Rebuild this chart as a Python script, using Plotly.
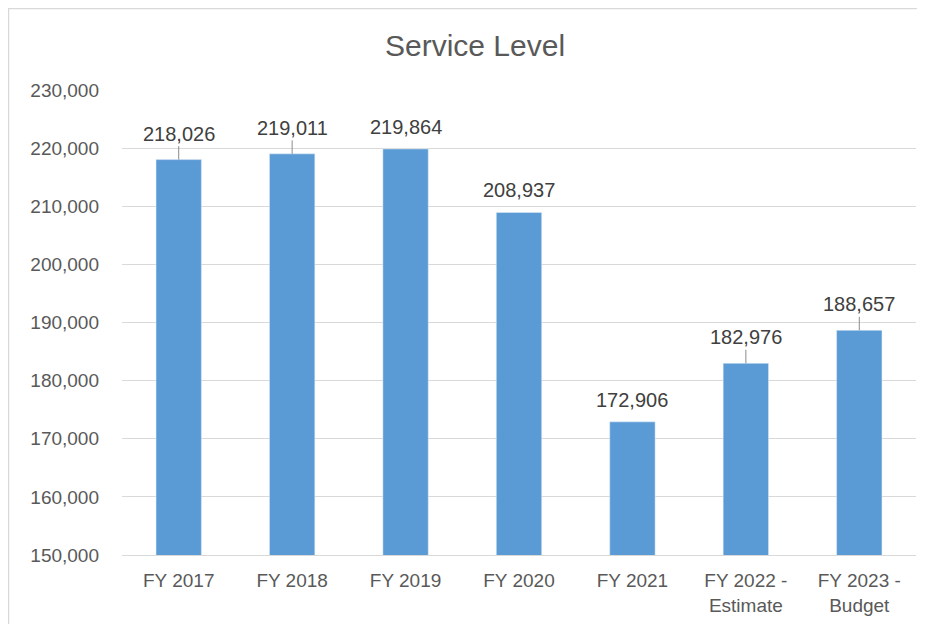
import plotly.graph_objects as go

categories = ["FY 2017", "FY 2018", "FY 2019", "FY 2020", "FY 2021",
              "FY 2022 -<br>Estimate", "FY 2023 -<br>Budget"]
values = [218026, 219011, 219864, 208937, 172906, 182976, 188657]
leader_bars = {"FY 2017", "FY 2018", "FY 2022 -<br>Estimate", "FY 2023 -<br>Budget"}

W, H = 917, 616
L, R, T, B = 114, 9, 82, 69
FONT = "Liberation Sans, Arial, sans-serif"
TXT = "#595959"

fig = go.Figure(go.Bar(x=categories, y=values, marker_color="#5B9BD5",
                       width=0.4, hoverinfo="x+y"))

annotations = []
for c, v in zip(categories, values):
    txt = f"{v:,}"
    if c in leader_bars:
        annotations.append(dict(x=c, y=v, text=txt, showarrow=True, ax=0, ay=-26,
                                arrowhead=0, arrowwidth=1, arrowcolor="#8C8C8C",
                                standoff=0, startstandoff=0,
                                font=dict(family=FONT, size=20, color="#404040")))
    else:
        annotations.append(dict(x=c, y=v, text=txt, showarrow=False,
                                yanchor="middle", yshift=22,
                                font=dict(family=FONT, size=20, color="#404040")))

pw = W - L - R
ph = H - T - B
fig.update_layout(
    width=W, height=H,
    margin=dict(l=L, r=R, t=T, b=B),
    paper_bgcolor="white", plot_bgcolor="white",
    title=dict(text="Service Level", x=467 / W, xanchor="center", y=1 - 37 / H,
               yanchor="middle", font=dict(family=FONT, size=30, color=TXT)),
    showlegend=False,
    bargap=0.6,
    annotations=annotations,
    yaxis=dict(range=[150000, 230000], dtick=10000, tickformat=",",
               showgrid=True, gridcolor="#D9D9D9", gridwidth=1,
               zeroline=False, showline=False, ticks="",
               ticklabelstandoff=22,
               tickfont=dict(family=FONT, size=19, color=TXT)),
    xaxis=dict(showline=True, linecolor="#D9D9D9", linewidth=1, ticks="",
               ticklabelstandoff=8,
               tickfont=dict(family=FONT, size=19, color=TXT)),
    shapes=[dict(type="rect", xref="paper", yref="paper",
                 x0=(0.5 - L) / pw, x1=(912 - L) / pw,
                 y0=(H - B - 630) / ph, y1=(H - B - 0.5) / ph,
                 line=dict(color="#D9D9D9", width=1.5), layer="below")],
)

fig.write_html("out.html")
